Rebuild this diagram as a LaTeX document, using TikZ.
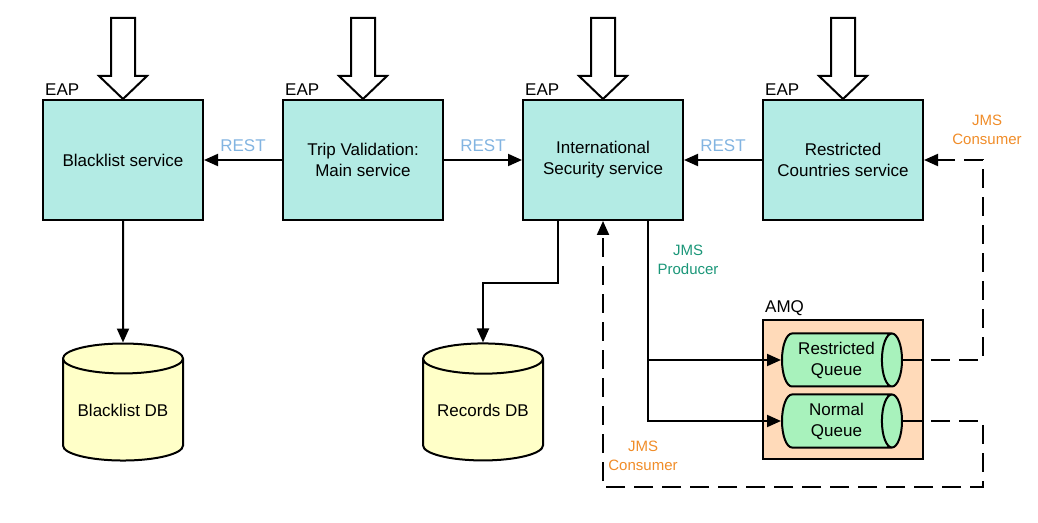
\documentclass[tikz,border=0pt]{standalone}
\usepackage{fontspec}
\setmainfont{Liberation Sans}
\usetikzlibrary{shapes,arrows.meta,positioning,calc}

\definecolor{servicefill}{RGB}{179,235,228}
\definecolor{dbfill}{RGB}{255,255,200}
\definecolor{amqfill}{RGB}{255,218,185}
\definecolor{queuefill}{RGB}{168,242,188}
\definecolor{restblue}{RGB}{130,180,225}
\definecolor{producerteal}{RGB}{26,150,120}
\definecolor{consumerorange}{RGB}{240,140,40}

\newcommand{\diagfont}{\fontsize{17}{21}\selectfont}
\newcommand{\tagfont}{\fontsize{15}{19}\selectfont}

\begin{document}
\begin{tikzpicture}[
    x=1pt, y=1pt,
    service/.style={rectangle, draw=black, fill=servicefill, line width=2pt, minimum width=160pt, minimum height=120pt, align=center, font=\diagfont},
    database/.style={cylinder, shape border rotate=90, aspect=0.33, draw=black, fill=dbfill, line width=2pt, minimum width=120pt, minimum height=117pt, inner sep=0pt, font=\diagfont},
    broker/.style={rectangle, draw=black, fill=amqfill, line width=2pt, minimum width=160pt, minimum height=139pt},
    queue/.style={cylinder, aspect=0.55, draw=black, fill=queuefill, line width=2pt, minimum width=53pt, minimum height=120pt, inner ysep=0pt, inner xsep=-6pt, align=center, font=\diagfont},
    tag/.style={anchor=south west, inner sep=3pt, font=\diagfont},
    rest/.style={text=restblue, font=\diagfont},
    producer/.style={text=producerteal, align=center, font=\tagfont},
    consumer/.style={text=consumerorange, align=center, font=\tagfont},
    inflow/.style={draw=black, fill=white, line width=2pt},
    arrow/.style={-{Triangle[length=14pt, width=12pt]}, line width=2pt},
    jmsarrow/.style={arrow, dash pattern=on 19pt off 9pt}
]
\useasboundingbox (0,0) rectangle (1038,522);

% ============ SERVICES EAP ============
\node[service, label={[tag]north west:EAP}] (blacklist) at (123,362) {Blacklist service};
\node[service, label={[tag]north west:EAP}] (trip) at (363,362) {Trip Validation:\\Main service};
\node[service, label={[tag]north west:EAP}] (intl) at (603,362) {International\\Security service};
\node[service, label={[tag]north west:EAP}] (restricted) at (843,362) {Restricted\\Countries service};

% Entrees
\draw[inflow] (blacklist.north) -- ++(-24,23) -- ++(12,0) -- ++(0,58) -- ++(24,0) -- ++(0,-58) -- ++(12,0) -- cycle;
\draw[inflow] (trip.north) -- ++(-24,23) -- ++(12,0) -- ++(0,58) -- ++(24,0) -- ++(0,-58) -- ++(12,0) -- cycle;
\draw[inflow] (intl.north) -- ++(-24,23) -- ++(12,0) -- ++(0,58) -- ++(24,0) -- ++(0,-58) -- ++(12,0) -- cycle;
\draw[inflow] (restricted.north) -- ++(-24,23) -- ++(12,0) -- ++(0,58) -- ++(24,0) -- ++(0,-58) -- ++(12,0) -- cycle;

% ============ BASES DE DONNEES ============
\node[database] (blacklist-db) at (123,112) {Blacklist DB};
\node[database] (records-db) at (483,112) {Records DB};

% ============ AMQ ============
\node[broker, label={[tag]north west:AMQ}] (amq) at (843,132.5) {};
\node[queue, anchor=east] (restricted-queue) at (903,162) {Restricted\\Queue};
\node[queue, anchor=east] (normal-queue) at (903,101) {Normal\\Queue};

% ============ CONNEXIONS ============
% REST
\draw[arrow] (trip.west) -- (blacklist.east) node[rest, midway, above=4pt] {REST};
\draw[arrow] (trip.east) -- (intl.west) node[rest, midway, above=4pt] {REST};
\draw[arrow] (restricted.west) -- (intl.east) node[rest, midway, above=4pt] {REST};

% Services -> DB
\draw[arrow] (blacklist.south) -- (blacklist-db.north);
\draw[arrow] ([xshift=-45pt]intl.south) -- ++(0,-62) -| (records-db.north);

% JMS producer
\draw[arrow] ([xshift=45pt]intl.south) |- (restricted-queue.west);
\draw[arrow] ([xshift=45pt]intl.south) |- (normal-queue.west);
\node[producer] (producer-tag) at (688,262) {JMS\\Producer};

% JMS consumer
\draw[jmsarrow] (restricted-queue.east) -- ++(80,0) |- (restricted.east);
\draw[jmsarrow] (normal-queue.east) -- ++(80,0) -- ++(0,-66) -| (intl.south);
\node[consumer] (consumer-tag-top) at (987,392) {JMS\\Consumer};
\node[consumer] (consumer-tag-bottom) at (643,66) {JMS\\Consumer};

\end{tikzpicture}
\end{document}
